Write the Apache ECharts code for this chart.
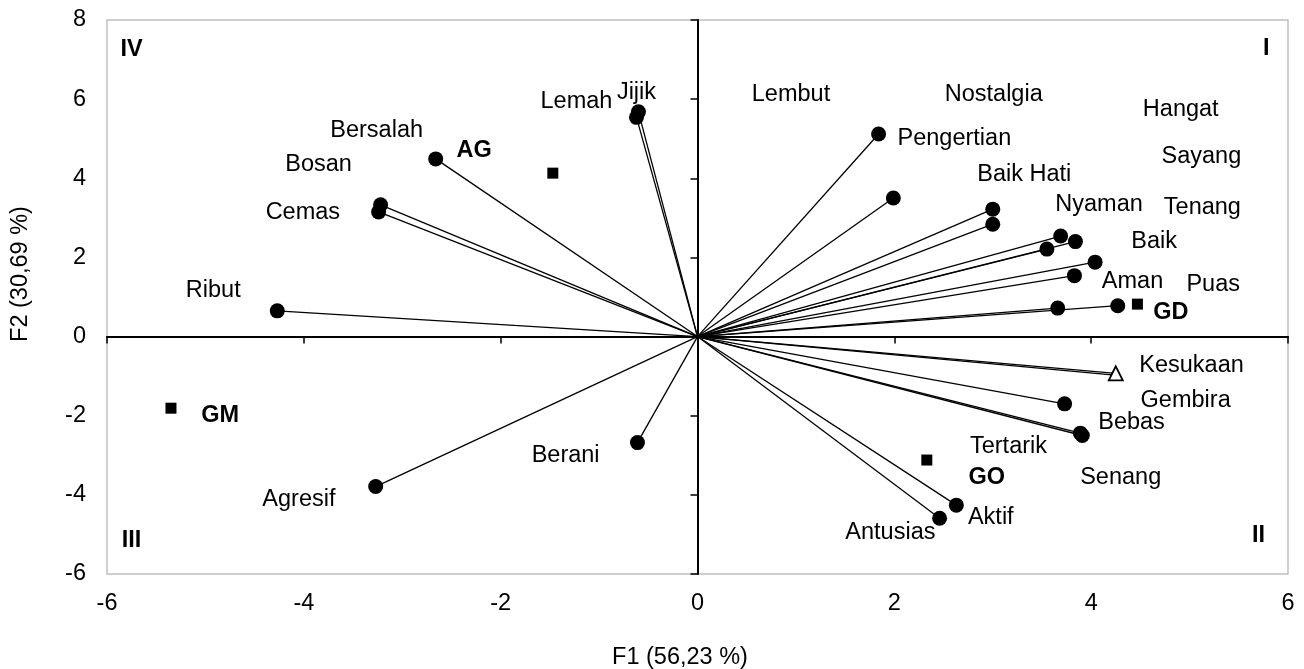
<!DOCTYPE html>
<html lang="en">
<head>
    <meta charset="UTF-8">
    <script src="https://cdn.jsdelivr.net/npm/echarts@6/dist/echarts.min.js"></script>
    <title>F1 x F2</title>
    <style>
        html, body { margin: 0; padding: 0; background: #fff; }
        #main { width: 1304px; height: 669px; }
    </style>
</head>
<body>
<div id="main"></div>
<script type="text/javascript">
    // variables (circles)
    var varNames = ['Lembut', 'Nostalgia', 'Baik Hati', 'Pengertian', 'Hangat', 'Nyaman', 'Sayang', 'Tenang', 'Baik', 'Aman', 'Puas',
        'Gembira', 'Bebas', 'Senang', 'Aktif', 'Antusias',
        'Lemah', 'Jijik', 'Bersalah', 'Bosan', 'Cemas', 'Ribut',
        'Berani', 'Agresif'];
    var varX = [1.84, 1.99, 3.00, 3.00, 3.69, 3.84, 3.55, 4.04, 3.83, 3.66, 4.27,
        3.73, 3.89, 3.91, 2.63, 2.46,
        -0.62, -0.60, -2.66, -3.22, -3.24, -4.27,
        -0.61, -3.27];
    var varY = [5.12, 3.50, 3.22, 2.84, 2.54, 2.40, 2.21, 1.88, 1.54, 0.72, 0.78,
        -1.70, -2.44, -2.50, -4.26, -4.59,
        5.54, 5.68, 4.49, 3.33, 3.15, 0.65,
        -2.68, -3.79];

    // vector hidden under the triangle
    var hiddenNames = ['Tertarik'];
    var hiddenX = [4.21];
    var hiddenY = [-0.97];

    // Kesukaan (hollow triangle)
    var likeNames = ['Kesukaan'];
    var likeX = [4.25];
    var likeY = [-0.93];

    // groups (squares)
    var groupNames = ['AG', 'GD', 'GO', 'GM'];
    var groupX = [-1.47, 4.47, 2.33, -5.35];
    var groupY = [4.13, 0.82, -3.12, -1.81];

    // text labels placed by hand in the source chart
    var labelNames = ['IV', 'I', 'III', 'II', 'AG', 'GD', 'GO', 'GM',
        'Bersalah', 'Bosan', 'Cemas', 'Ribut', 'Lemah', 'Jijik', 'Lembut', 'Nostalgia', 'Hangat',
        'Pengertian', 'Sayang', 'Baik Hati', 'Nyaman', 'Tenang', 'Baik', 'Aman', 'Puas',
        'Kesukaan', 'Gembira', 'Bebas', 'Tertarik', 'Senang', 'Aktif', 'Antusias', 'Berani', 'Agresif'];
    var labelX = [-5.75, 5.78, -5.75, 5.70, -2.27, 4.81, 2.94, -4.85,
        -3.26, -3.85, -4.01, -4.92, -1.23, -0.62, 0.95, 3.01, 4.91,
        2.61, 5.12, 3.32, 4.08, 5.13, 4.64, 4.42, 5.24,
        5.02, 4.96, 4.41, 3.16, 4.30, 2.98, 1.96, -1.34, -4.05];
    var labelY = [7.26, 7.28, -5.16, -5.04, 4.70, 0.61, -3.57, -2.00,
        5.20, 4.34, 3.14, 1.17, 5.94, 6.18, 6.11, 6.12, 5.74,
        5.00, 4.56, 4.10, 3.33, 3.25, 2.40, 1.40, 1.31,
        -0.73, -1.61, -2.18, -2.77, -3.57, -4.56, -4.94, -3.00, -4.12];
    var boldLabels = ['IV', 'I', 'III', 'II', 'AG', 'GD', 'GO', 'GM'];

    var font = 'Liberation Sans, Arial, sans-serif';

    var myChart = echarts.init(document.getElementById('main'));

    var vecX = varX.concat(hiddenX, likeX);
    var vecY = varY.concat(hiddenY, likeY);

    var series = [];
    // vectors from the origin
    vecX.forEach(function (x, i) {
        series.push({
            type: 'line',
            data: [[0, 0], [x, vecY[i]]],
            symbol: 'none',
            lineStyle: {color: '#000', width: 1.3, opacity: 1},
            silent: true,
            z: 1
        });
    });
    series.push({
        type: 'scatter',
        data: varNames.map(function (n, i) { return {name: n, value: [varX[i], varY[i]]}; }),
        symbol: 'circle',
        symbolSize: 15,
        itemStyle: {color: '#000', opacity: 1},
        z: 3
    });
    series.push({
        type: 'scatter',
        data: likeNames.map(function (n, i) { return {name: n, value: [likeX[i], likeY[i]]}; }),
        symbol: 'triangle',
        symbolSize: 14,
        itemStyle: {color: '#fff', borderColor: '#000', borderWidth: 1.8, opacity: 1},
        z: 4
    });
    series.push({
        type: 'scatter',
        data: groupNames.map(function (n, i) { return {name: n, value: [groupX[i], groupY[i]]}; }),
        symbol: 'rect',
        symbolSize: 11,
        itemStyle: {color: '#000', opacity: 1},
        z: 3
    });
    series.push({
        type: 'scatter',
        data: labelNames.map(function (n, i) {
            return {
                name: n,
                value: [labelX[i], labelY[i]],
                label: {fontWeight: boldLabels.indexOf(n) >= 0 ? 'bold' : 'normal'}
            };
        }),
        symbolSize: 1,
        itemStyle: {color: 'rgba(0,0,0,0)', opacity: 1},
        label: {
            show: true,
            position: 'inside',
            formatter: '{b}',
            color: '#000',
            opacity: 1,
            fontSize: 23.5,
            fontFamily: font
        },
        silent: true,
        z: 5
    });

    var option = {
        animation: false,
        textStyle: {fontFamily: font},
        grid: {
            left: 107, right: 16, top: 20, bottom: 95,
            show: true, borderColor: '#c0c0c0', borderWidth: 1.5,
            backgroundColor: '#fff',
            outerBoundsMode: 'none'
        },
        xAxis: [{
            type: 'value', min: -6, max: 6, interval: 2, position: 'bottom',
            axisLine: {show: false, onZero: false},
            axisTick: {show: false},
            splitLine: {show: false},
            axisLabel: {color: '#000', fontSize: 23.5, fontFamily: font, margin: 18},
            name: 'F1 (56,23 %)',
            nameLocation: 'middle',
            nameGap: 72,
            nameTextStyle: {color: '#000', fontSize: 23.5, fontFamily: font, padding: [0, 35, 0, 0]}
        }, {
            type: 'value', min: -6, max: 6, interval: 2, position: 'bottom',
            axisLine: {show: true, onZero: true, lineStyle: {color: '#000', width: 2}},
            axisTick: {show: true, length: 7, lineStyle: {color: '#000', width: 1.5}},
            splitLine: {show: false},
            axisLabel: {show: false}
        }],
        yAxis: [{
            type: 'value', min: -6, max: 8, interval: 2, position: 'left',
            axisLine: {show: false, onZero: false},
            axisTick: {show: false},
            splitLine: {show: false},
            axisLabel: {color: '#000', fontSize: 23.5, fontFamily: font, margin: 21},
            name: 'F2 (30,69 %)',
            nameLocation: 'middle',
            nameGap: 74,
            nameTextStyle: {color: '#000', fontSize: 23.5, fontFamily: font, padding: [0, 0, 0, 46]}
        }, {
            type: 'value', min: -6, max: 8, interval: 2, position: 'left',
            axisLine: {show: true, onZero: true, lineStyle: {color: '#000', width: 2}},
            axisTick: {show: true, length: 7, lineStyle: {color: '#000', width: 1.5}},
            splitLine: {show: false},
            axisLabel: {show: false}
        }],
        series: series
    };
    myChart.setOption(option);
</script>
</body>
</html>
